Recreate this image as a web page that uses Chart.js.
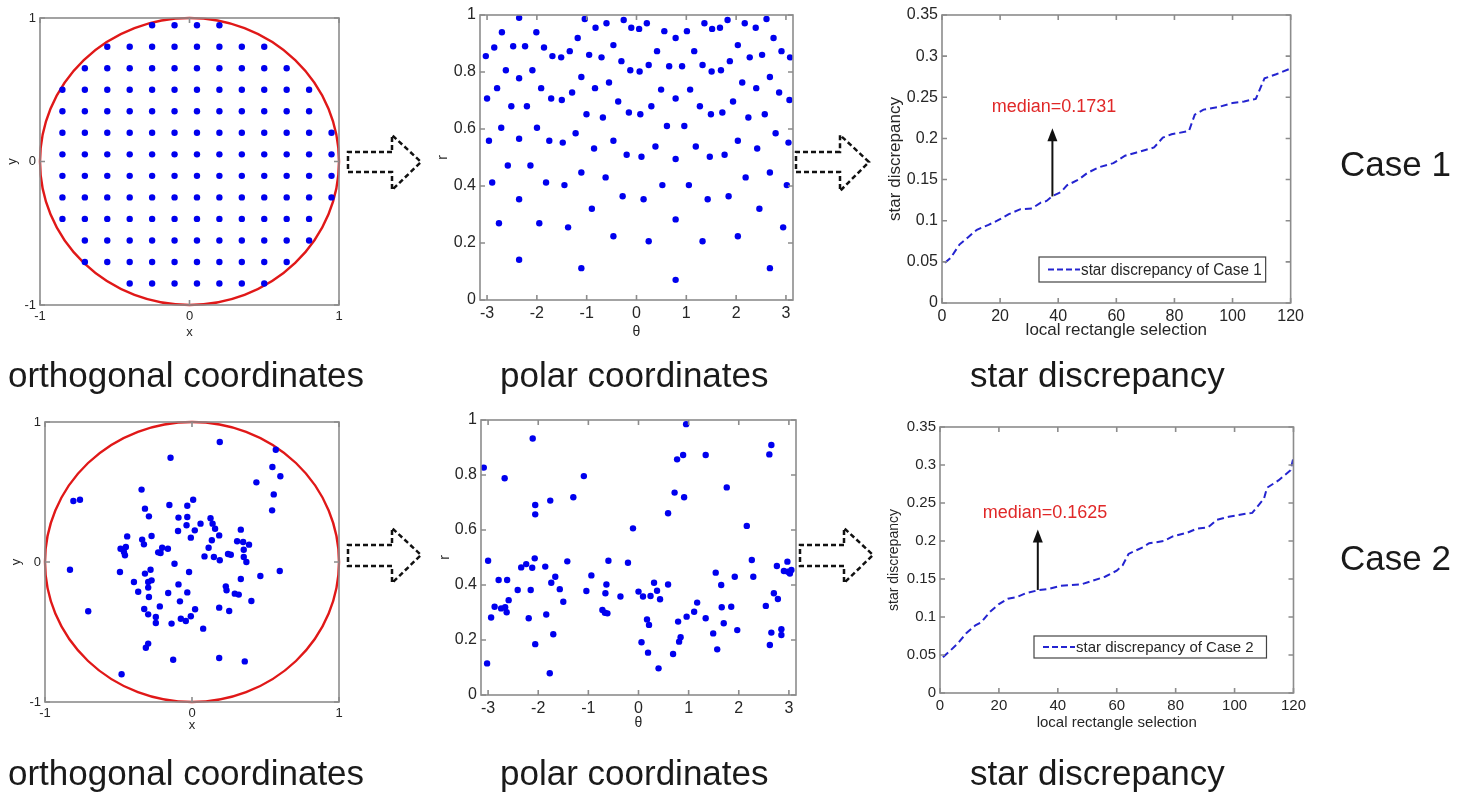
<!DOCTYPE html>
<html>
<head>
<meta charset="utf-8">
<script src="https://cdn.jsdelivr.net/npm/chart.js@4.4.1/dist/chart.umd.min.js"></script>
<style>
  body { margin: 0; background: #fff; width: 1461px; height: 794px; overflow: hidden; position: relative; font-family: "Liberation Sans", Arial, sans-serif; }
  canvas { position: absolute; }
  .lbl { position: absolute; font-size: 35px; line-height: 1; color: #1a1a1a; white-space: nowrap; }
  svg { position: absolute; left: 0; top: 0; }
</style>
</head>
<body>
<canvas id="ortho1" width="345" height="340" style="left:5px;top:0px"></canvas>
<canvas id="polar1" width="368" height="341" style="left:435px;top:0px"></canvas>
<canvas id="disc1" width="423" height="341" style="left:885px;top:0px"></canvas>
<canvas id="ortho2" width="341" height="328" style="left:9px;top:405px"></canvas>
<canvas id="polar2" width="369" height="327" style="left:437px;top:405px"></canvas>
<canvas id="disc2" width="424" height="322" style="left:886px;top:410px"></canvas>

<svg width="1461" height="794">
  <g fill="none" stroke="#111" stroke-width="2.5" stroke-dasharray="5,3">
    <path d="M392 152 L348 152 L348 172 L392 172 L392 190 L421 162 L392 135 Z"/>
    <path d="M840 152 L796 152 L796 172 L840 172 L840 191 L869 162 L840 135 Z"/>
    <path d="M392 545 L348 545 L348 566 L392 566 L392 583 L421 555 L392 528 Z"/>
    <path d="M844 545 L800 545 L800 566 L844 566 L844 583 L873 555 L844 528 Z"/>
  </g>
</svg>

<div class="lbl" style="left:8px;top:357px">orthogonal coordinates</div>
<div class="lbl" style="left:500px;top:357px">polar coordinates</div>
<div class="lbl" style="left:970px;top:357px">star discrepancy</div>
<div class="lbl" style="left:1340px;top:146px">Case 1</div>
<div class="lbl" style="left:1340px;top:540px">Case 2</div>
<div class="lbl" style="left:8px;top:755px">orthogonal coordinates</div>
<div class="lbl" style="left:500px;top:755px">polar coordinates</div>
<div class="lbl" style="left:970px;top:755px">star discrepancy</div>

<script>
// Case 1: regular grid, columns used in each row
const gridX = [-0.85, -0.7, -0.55, -0.4, -0.25, -0.1, 0.05, 0.2, 0.35, 0.5, 0.65, 0.8, 0.95];
const gridY = [0.95, 0.8, 0.65, 0.5, 0.35, 0.2, 0.05, -0.1, -0.25, -0.4, -0.55, -0.7, -0.85];
const rowFirst = [4, 2, 1, 0, 0, 0, 0, 0, 0, 0, 1, 1, 3];
const rowLast = [7, 9, 10, 11, 11, 12, 12, 12, 12, 11, 11, 10, 9];

// Case 2: orthogonal coordinates
const case2X = [0.189, -0.146, 0.570, 0.547, 0.601, 0.438, 0.556, 0.545, -0.343, -0.807, -0.762, 0.008, -0.154, -0.032, -0.320, -0.293,
  -0.092, -0.032, 0.126, 0.058, -0.037, 0.140, 0.157, -0.095, 0.019, 0.332, 0.185, -0.008, -0.441, -0.275, -0.339, -0.327,
  0.135, 0.307, 0.348, 0.388, 0.352, 0.352, 0.370, -0.203, -0.164, 0.113, -0.486, -0.450, -0.463, -0.456, -0.230, -0.214,
  0.085, 0.149, 0.189, 0.245, 0.264, -0.119, -0.020, -0.490, -0.830, -0.282, -0.320, -0.275, -0.298, -0.395, -0.298, -0.366,
  -0.293, -0.162, -0.092, -0.032, -0.082, -0.219, -0.325, -0.298, -0.246, -0.246, -0.139, -0.076, -0.042, -0.008, 0.021, 0.076,
  0.185, 0.253, 0.230, 0.235, 0.291, 0.318, 0.332, 0.404, 0.465, 0.597, -0.706, -0.298, -0.314, -0.128, 0.185, 0.359, -0.479];
const case2Y = [0.857, 0.745, 0.802, 0.679, 0.612, 0.569, 0.483, 0.369, 0.517, 0.436, 0.445, 0.445, 0.407, 0.402, 0.381, 0.326,
  0.317, 0.321, 0.312, 0.274, 0.262, 0.274, 0.238, 0.221, 0.226, 0.231, 0.190, 0.174, 0.183, 0.186, 0.160, 0.126,
  0.155, 0.148, 0.143, 0.124, 0.088, 0.036, 0.0, 0.102, 0.095, 0.102, 0.095, 0.107, 0.071, 0.048, 0.069, 0.064,
  0.040, 0.036, 0.012, 0.057, 0.052, -0.012, -0.071, -0.071, -0.055, -0.055, -0.083, -0.131, -0.143, -0.143, -0.183, -0.212,
  -0.250, -0.221, -0.160, -0.217, -0.281, -0.317, -0.336, -0.374, -0.393, -0.436, -0.440, -0.405, -0.421, -0.388, -0.338, -0.476,
  -0.326, -0.350, -0.174, -0.202, -0.226, -0.233, -0.121, -0.279, -0.100, -0.064, -0.352, -0.583, -0.612, -0.698, -0.686, -0.710, -0.802];

// Case 2: polar coordinates
const case2Theta = [-3.086, -3.0, -3.02, -2.94, -2.87, -2.79, -2.74, -2.67, -2.66, -2.62, -2.63, -2.59, -2.41, -2.34, -2.24, -2.19,
  -2.15, -2.12, -2.11, -2.07, -2.06, -2.06, -2.06, -1.86, -1.84, -1.76, -1.77, -1.74, -1.70, -1.66, -1.57, -1.50,
  -1.42, -1.30, -1.09, -1.04, -0.94, -0.72, -0.67, -0.66, -0.64, -0.62, -0.60, -0.36, -0.21, -0.11, 0.0, 0.06,
  0.09, 0.17, 0.21, 0.19, 0.24, 0.31, 0.37, 0.40, 0.43, 0.59, 0.59, 0.69, 0.72, 0.77, 0.79, 0.81,
  0.84, 0.89, 0.91, 0.95, 0.96, 1.11, 1.17, 1.34, 1.34, 1.49, 1.54, 1.57, 1.65, 1.66, 1.70, 1.76,
  1.85, 1.92, 1.97, 2.16, 2.26, 2.29, 2.54, 2.61, 2.62, 2.65, 2.65, 2.70, 2.76, 2.78, 2.85, 2.85,
  2.90, 2.97, 2.98, 3.02, 3.05];
const case2R = [0.827, 0.488, 0.115, 0.282, 0.321, 0.418, 0.315, 0.788, 0.319, 0.418, 0.301, 0.345, 0.382, 0.464, 0.476, 0.279,
  0.382, 0.463, 0.933, 0.497, 0.691, 0.657, 0.185, 0.467, 0.293, 0.707, 0.079, 0.408, 0.221, 0.430, 0.385, 0.339,
  0.486, 0.719, 0.796, 0.378, 0.435, 0.309, 0.299, 0.370, 0.402, 0.297, 0.488, 0.358, 0.481, 0.606, 0.376, 0.192,
  0.358, 0.275, 0.255, 0.154, 0.360, 0.408, 0.379, 0.097, 0.348, 0.661, 0.402, 0.149, 0.736, 0.857, 0.267, 0.194,
  0.210, 0.873, 0.719, 0.985, 0.285, 0.303, 0.336, 0.873, 0.279, 0.224, 0.445, 0.166, 0.400, 0.319, 0.261, 0.755,
  0.321, 0.430, 0.236, 0.615, 0.491, 0.430, 0.324, 0.875, 0.182, 0.909, 0.227, 0.370, 0.469, 0.349, 0.239, 0.218,
  0.451, 0.485, 0.448, 0.442, 0.455];

// star discrepancy curves
const disc1X = [1, 3, 6, 9, 12, 16, 19, 23, 27, 31, 34, 36, 38, 41, 43, 47, 50, 54, 59, 63, 67, 70, 73, 76, 79, 85, 87, 90, 95, 100, 104, 108, 111, 115, 120];
const disc1Y = [0.049, 0.055, 0.071, 0.080, 0.089, 0.095, 0.100, 0.108, 0.114, 0.115, 0.122, 0.124, 0.130, 0.135, 0.143, 0.150, 0.158, 0.165, 0.170, 0.179,
  0.183, 0.186, 0.189, 0.201, 0.205, 0.209, 0.229, 0.235, 0.238, 0.243, 0.245, 0.248, 0.273, 0.278, 0.285];
const disc2X = [1, 3, 6, 9, 12, 14, 17, 20, 23, 26, 29, 33, 37, 41, 48, 52, 56, 60, 62, 64, 69, 71, 76, 79, 84, 87, 91, 94, 98, 104, 106, 110, 111, 115, 119, 120];
const disc2Y = [0.047, 0.054, 0.065, 0.079, 0.089, 0.093, 0.107, 0.117, 0.124, 0.126, 0.131, 0.135, 0.137, 0.141, 0.143, 0.148, 0.153, 0.161, 0.168, 0.183,
  0.192, 0.197, 0.200, 0.206, 0.211, 0.216, 0.218, 0.228, 0.232, 0.236, 0.237, 0.256, 0.270, 0.280, 0.293, 0.310];

// medians: [label value, x of arrow, arrow start, arrow end]
const median1 = [0.1731, 38, 0.1295, 0.2125];
const median2 = [0.1625, 33.2, 0.1356, 0.215];

// tick labels
const unitTicks = [-1, 0, 1];
const thetaTicks = [-3, -2, -1, 0, 1, 2, 3];
const rTicks = [0, 0.2, 0.4, 0.6, 0.8, 1];
const discXTicks = [0, 20, 40, 60, 80, 100, 120];
const discYTicks = [0, 0.05, 0.1, 0.15, 0.2, 0.25, 0.3, 0.35];

const FONT = '"Liberation Sans", Arial, sans-serif';
const TXT = '#262626';
const DOT = '#0000ee';

// build the case 1 grid points
const ortho1 = [];
gridY.forEach(function(yv, i) {
    for (let j = rowFirst[i]; j <= rowLast[i]; j++) ortho1.push({ x: gridX[j], y: yv });
});
const polar1 = ortho1.map(p => ({ x: Math.atan2(p.y, p.x), y: Math.hypot(p.x, p.y) }));
const ortho2 = case2X.map((v, i) => ({ x: v, y: case2Y[i] }));
const polar2 = case2Theta.map((v, i) => ({ x: v, y: case2R[i] }));
const line1 = disc1X.map((v, i) => ({ x: v, y: disc1Y[i] }));
const line2 = disc2X.map((v, i) => ({ x: v, y: disc2Y[i] }));

// MATLAB-like box with inward ticks
const boxPlugin = {
    id: 'matBox',
    afterDatasetsDraw(chart) {
        const { ctx, chartArea: a, scales } = chart;
        ctx.save();
        ctx.strokeStyle = '#8c8c8c';
        ctx.lineWidth = 1.6;
        ctx.strokeRect(a.left, a.top, a.right - a.left, a.bottom - a.top);
        const t = 5;
        ctx.beginPath();
        scales.x.ticks.forEach(tk => {
            const px = scales.x.getPixelForValue(tk.value);
            ctx.moveTo(px, a.bottom); ctx.lineTo(px, a.bottom - t);
            ctx.moveTo(px, a.top); ctx.lineTo(px, a.top + t);
        });
        scales.y.ticks.forEach(tk => {
            const py = scales.y.getPixelForValue(tk.value);
            ctx.moveTo(a.left, py); ctx.lineTo(a.left + t, py);
            ctx.moveTo(a.right, py); ctx.lineTo(a.right - t, py);
        });
        ctx.stroke();
        ctx.restore();
    }
};

// red unit circle, drawn through the scales
const circlePlugin = {
    id: 'unitCircle',
    beforeDatasetsDraw(chart) {
        const { ctx, scales } = chart;
        const cx = scales.x.getPixelForValue(0), cy = scales.y.getPixelForValue(0);
        const rx = scales.x.getPixelForValue(1) - cx, ry = cy - scales.y.getPixelForValue(1);
        ctx.save();
        ctx.strokeStyle = '#e01818';
        ctx.lineWidth = 2.4;
        ctx.beginPath();
        ctx.ellipse(cx, cy, rx, ry, 0, 0, Math.PI * 2);
        ctx.stroke();
        ctx.restore();
    }
};

// median arrow + text and boxed legend
const notePlugin = {
    id: 'note',
    afterDatasetsDraw(chart, args, o) {
        if (!o || !o.median) return;
        const { ctx, chartArea: a, scales } = chart;
        const m = o.median;
        const ax = scales.x.getPixelForValue(m[1]);
        const y0 = scales.y.getPixelForValue(m[2]);
        const y1 = scales.y.getPixelForValue(m[3]);
        ctx.save();
        ctx.strokeStyle = '#111';
        ctx.fillStyle = '#111';
        ctx.lineWidth = 2;
        ctx.beginPath();
        ctx.moveTo(ax, y0); ctx.lineTo(ax, y1 + 10);
        ctx.stroke();
        ctx.beginPath();
        ctx.moveTo(ax, y1); ctx.lineTo(ax - 5, y1 + 13); ctx.lineTo(ax + 5, y1 + 13);
        ctx.closePath(); ctx.fill();

        ctx.fillStyle = '#e02828';
        ctx.font = o.medianSize + 'px ' + FONT;
        ctx.textBaseline = 'middle';
        ctx.fillText('median=' + m[0], scales.x.getPixelForValue(o.textAt[0]), scales.y.getPixelForValue(o.textAt[1]));

        // legend box
        const L = o.legend;
        const bx = a.left + L.left, bw = a.right - L.right - bx;
        const by = a.bottom - L.bottom - L.height;
        ctx.fillStyle = '#fff';
        ctx.fillRect(bx, by, bw, L.height);
        ctx.strokeStyle = '#444';
        ctx.lineWidth = 1.2;
        ctx.strokeRect(bx, by, bw, L.height);
        ctx.strokeStyle = '#2424d0';
        ctx.lineWidth = 2;
        ctx.setLineDash([6, 3]);
        ctx.beginPath();
        ctx.moveTo(bx + L.sample, by + L.height / 2);
        ctx.lineTo(bx + L.sample + 32, by + L.height / 2);
        ctx.stroke();
        ctx.setLineDash([]);
        ctx.fillStyle = TXT;
        ctx.font = L.size + 'px ' + FONT;
        ctx.fillText(L.text, bx + L.sample + 33, by + L.height / 2 + 1, bw - L.sample - 37);
        ctx.restore();
    }
};

function axis(min, max, ticks, fontSize, title, titleSize, size, isY) {
    return {
        type: 'linear',
        min: min,
        max: max,
        grid: { display: false, drawTicks: false },
        border: { display: false },
        afterBuildTicks: s => { s.ticks = ticks.map(v => ({ value: v })); },
        afterFit: s => { if (isY) s.width = size; else s.height = size; },
        ticks: {
            font: { size: fontSize, family: FONT },
            color: TXT,
            padding: 4,
            autoSkip: false,
            maxRotation: 0,
            callback: v => String(+(+v).toFixed(3))
        },
        title: {
            display: true,
            text: title,
            color: TXT,
            font: { size: titleSize, family: FONT },
            padding: 0
        }
    };
}

function makeChart(id, type, datasets, pad, xAxis, yAxis, extra, notes) {
    return new Chart(document.getElementById(id), {
        type: type,
        data: { datasets: datasets },
        options: {
            responsive: false,
            animation: false,
            layout: { padding: { top: pad[0], right: pad[1], left: 0, bottom: 0 } },
            plugins: { legend: { display: false }, tooltip: { enabled: false }, note: notes || {} },
            scales: { x: xAxis, y: yAxis }
        },
        plugins: extra
    });
}

function dots(data) {
    return { data: data, pointRadius: 3.2, pointBackgroundColor: DOT, pointBorderWidth: 0, showLine: false };
}

function dashed(data) {
    return { data: data, borderColor: '#2424d0', borderWidth: 2, borderDash: [7, 4], pointRadius: 0, tension: 0, fill: false };
}

// top row
makeChart('ortho1', 'scatter', [dots(ortho1)], [18, 11],
    axis(-1, 1, unitTicks, 13, 'x', 13, 35, false),
    axis(-1, 1, unitTicks, 13, 'y', 13, 35, true),
    [circlePlugin, boxPlugin]);

makeChart('polar1', 'scatter', [dots(polar1)], [15, 10],
    axis(-3.1416, 3.1416, thetaTicks, 16, 'θ', 14, 41, false),
    axis(0, 1, rTicks, 16, 'r', 14, 45, true),
    [boxPlugin]);

makeChart('disc1', 'line', [dashed(line1)], [15, 15],
    axis(0, 120, discXTicks, 16, 'local rectangle selection', 17, 38, false),
    axis(0, 0.35, discYTicks, 16, 'star discrepancy', 17, 57, true),
    [boxPlugin, notePlugin],
    { median: median1, textAt: [17.1, 0.238], medianSize: 18,
      legend: { left: 97, right: 25, bottom: 21, height: 25, sample: 9, size: 16, text: 'star discrepancy of Case 1' } });

// bottom row
makeChart('ortho2', 'scatter', [dots(ortho2)], [17, 11],
    axis(-1, 1, unitTicks, 13, 'x', 13, 31, false),
    axis(-1, 1, unitTicks, 13, 'y', 13, 36, true),
    [circlePlugin, boxPlugin]);

makeChart('polar2', 'scatter', [dots(polar2)], [15, 10],
    axis(-3.1416, 3.1416, thetaTicks, 16, 'θ', 14, 37, false),
    axis(0, 1, rTicks, 16, 'r', 14, 44, true),
    [boxPlugin]);

makeChart('disc2', 'line', [dashed(line2)], [17, 15],
    axis(0, 120, discXTicks, 15, 'local rectangle selection', 15, 39, false),
    axis(0, 0.35, discYTicks, 15, 'star discrepancy', 14, 54, true),
    [boxPlugin, notePlugin],
    { median: median2, textAt: [14.5, 0.237], medianSize: 18,
      legend: { left: 94, right: 27, bottom: 35, height: 22, sample: 9, size: 15, text: 'star discrepancy of Case 2' } });
</script>
</body>
</html>
